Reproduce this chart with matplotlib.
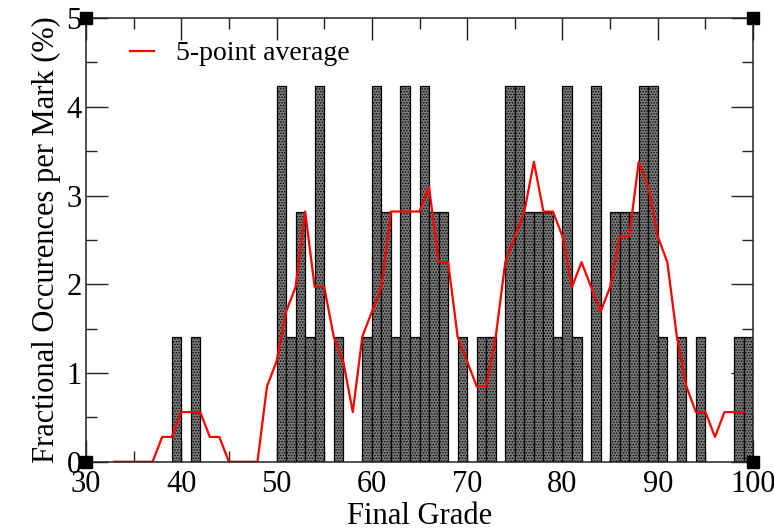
"""Histogram of final grades (fraction of the class per mark, %) with a
5-point running average overlaid, xmgrace look."""
import matplotlib
matplotlib.use("Agg")
import matplotlib.pyplot as plt
from matplotlib.ticker import MultipleLocator

plt.rcParams["font.family"] = ["Liberation Serif", "DejaVu Serif"]
plt.rcParams["hatch.linewidth"] = 0.7

# bar at grade g covers [g-1, g]
grades = [40, 42, 51, 52, 53, 54, 55, 57, 60, 61, 62, 63, 64, 65, 66, 67, 68,
          70, 72, 73, 75, 76, 77, 78, 79, 80, 81, 82, 84, 86, 87, 88, 89, 90,
          91, 93, 95, 99, 100]
frac = [1.41, 1.41, 4.23, 1.41, 2.82, 1.41, 4.23, 1.41, 1.41, 4.23, 2.82, 1.41,
        4.23, 1.41, 4.23, 2.82, 2.82, 1.41, 1.41, 1.41, 4.23, 4.23, 2.82, 2.82,
        2.82, 1.41, 4.23, 1.41, 4.23, 2.82, 2.82, 2.82, 4.23, 4.23, 1.41, 1.41,
        1.41, 1.41, 1.41]

avg_x = list(range(33, 100))
avg_y = [0, 0, 0, 0, 0, 0.28, 0.28, 0.56, 0.56, 0.56, 0.28, 0.28, 0, 0, 0, 0,
         0.85, 1.13, 1.69, 1.97, 2.82, 1.97, 1.97, 1.41, 1.13, 0.56, 1.41, 1.69,
         1.97, 2.82, 2.82, 2.82, 2.82, 3.10, 2.25, 2.25, 1.41, 1.13, 0.85, 0.85,
         1.41, 2.25, 2.54, 2.82, 3.38, 2.82, 2.82, 2.54, 1.97, 2.25, 1.97, 1.69,
         1.97, 2.54, 2.54, 3.38, 3.10, 2.54, 2.25, 1.41, 0.85, 0.56, 0.56, 0.28,
         0.56, 0.56, 0.56]

fig = plt.figure(figsize=(7.74, 5.32), dpi=100)
ax = fig.add_axes([0.111, 0.132, 0.862, 0.834])

ax.bar(grades, frac, width=-1.0, align="edge", facecolor="#7a7a7a",
       edgecolor="black", linewidth=0.9, hatch="......", zorder=2)
ax.plot(avg_x, avg_y, color="red", lw=1.6, label="5-point average", zorder=3)

ax.set_xlim(30, 100); ax.set_ylim(0, 5)
ax.xaxis.set_major_locator(MultipleLocator(10))
ax.xaxis.set_minor_locator(MultipleLocator(5))
ax.yaxis.set_major_locator(MultipleLocator(1))
ax.yaxis.set_minor_locator(MultipleLocator(0.5))
ax.tick_params(which="both", direction="in", top=True, right=True,
               labelsize=22, width=1, color="#222222")
ax.tick_params(which="major", length=16)
ax.tick_params(axis="x", which="major", pad=6)
ax.tick_params(axis="y", which="major", pad=3)
ax.tick_params(which="minor", length=8)
for s in ax.spines.values():
    s.set_linewidth(1.1); s.set_color("#222222"); s.set_zorder(4)

ax.set_xlabel("Final Grade", fontsize=22, labelpad=2)
ax.set_ylabel("Fractional Occurences per Mark (%)", fontsize=22, labelpad=4)

ax.legend(loc="upper left", frameon=False, fontsize=20, handlelength=0.85,
          handletextpad=0.8, bbox_to_anchor=(0.046, 0.98), borderaxespad=0.1)

# grace-style corner handles
for cx, cy in [(0, 0), (0, 1), (1, 0), (1, 1)]:
    ax.plot(cx, cy, marker="s", ms=9, color="black", transform=ax.transAxes,
            clip_on=False, zorder=5)

fig.savefig("out.png", dpi=100)
